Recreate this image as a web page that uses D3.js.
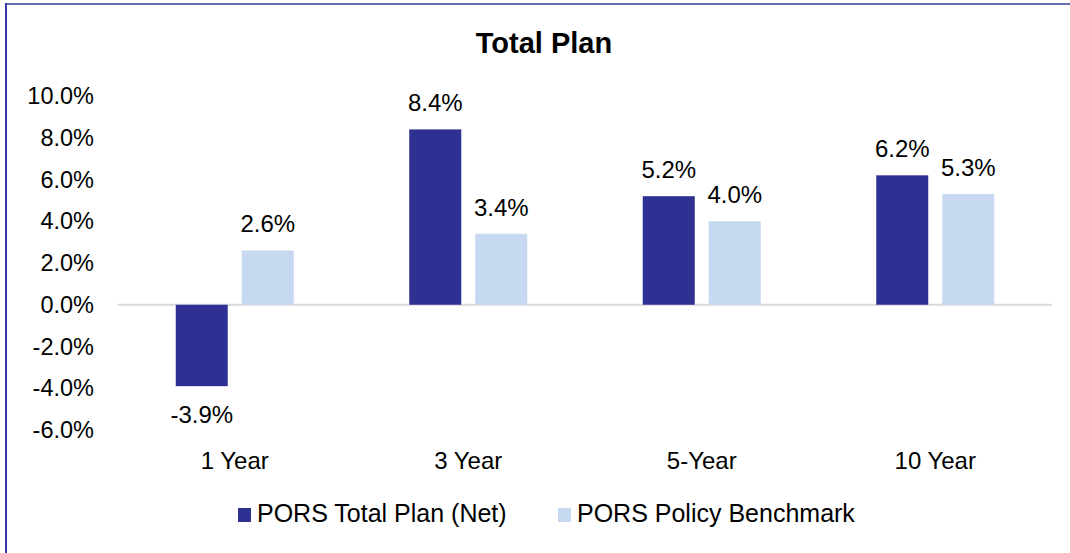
<!DOCTYPE html>
<meta charset="utf-8">
<style>
    body {
        margin: 0;
        background: #fff;
        font-family: "Liberation Sans", Arial, sans-serif;
    }

    text {
        fill: #000;
    }
</style>

<body>
    <svg id="chart" width="1070" height="553"></svg>

    <script src="https://cdnjs.cloudflare.com/ajax/libs/d3/7.8.5/d3.min.js"></script>

    <script>
        // data
        var categories = ["1 Year", "3 Year", "5-Year", "10 Year"];
        var seriesNames = ["PORS Total Plan (Net)", "PORS Policy Benchmark"];
        var totalPlan = [-3.9, 8.4, 5.2, 6.2];
        var benchmark = [2.6, 3.4, 4.0, 5.3];
        var yTicks = [-6, -4, -2, 0, 2, 4, 6, 8, 10];
        var colors = ["#2E3192", "#C6D9F0"];

        // plain hyphen minus, like the original
        function pct(v) { return v.toFixed(1) + "%"; }

        var svg = d3.select("#chart"),
            width = +svg.attr("width"),
            height = +svg.attr("height");

        // frame lines (top + left only visible)
        svg.append("line")
            .attr("x1", 5).attr("y1", 4).attr("x2", width).attr("y2", 4)
            .style("stroke", "#6B6EB4").style("stroke-width", 2);
        svg.append("line")
            .attr("x1", 6).attr("y1", 3).attr("x2", 6).attr("y2", height)
            .style("stroke", "#3438A0").style("stroke-width", 2);

        svg.append("text")
            .attr("x", 544)
            .attr("y", 53)
            .attr("text-anchor", "middle")
            .style("font-size", "29px")
            .style("font-weight", "700")
            .text("Total Plan");

        var x0 = d3.scaleBand()
            .domain(categories)
            .range([118, 1052]);

        var x1 = d3.scaleBand()
            .domain(seriesNames)
            .range([0, x0.bandwidth()])
            .paddingInner(0.212)
            .paddingOuter(0.875);

        var y = d3.scaleLinear()
            .domain([-6, 10])
            .range([430, 96]);

        // y tick labels
        var yAxis = svg.append("g")
            .attr("transform", "translate(97,0)")
            .call(d3.axisLeft(y).tickValues(yTicks).tickSize(0).tickPadding(3)
                .tickFormat(pct));
        yAxis.select(".domain").remove();
        yAxis.selectAll("text")
            .style("font-size", "23.5px")
            .style("font-family", "'Liberation Sans', Arial, sans-serif")
            .attr("fill", "#000");

        // zero line
        svg.append("line")
            .attr("x1", x0.range()[0])
            .attr("x2", x0.range()[1])
            .attr("y1", y(0))
            .attr("y2", y(0))
            .style("stroke", "#D9D9D9")
            .style("stroke-width", 2);

        var rows = categories.map(function (c, i) {
            return { cat: c, values: [totalPlan[i], benchmark[i]] };
        });

        var groups = svg.selectAll(".grp")
            .data(rows)
            .enter().append("g")
            .attr("class", "grp")
            .attr("transform", function (d) { return "translate(" + x0(d.cat) + ",0)"; });

        var cells = groups.selectAll(".cell")
            .data(function (d) {
                return d.values.map(function (v, k) { return { name: seriesNames[k], v: v, k: k }; });
            })
            .enter().append("g")
            .attr("class", "cell");

        cells.append("rect")
            .attr("x", function (d) { return x1(d.name); })
            .attr("width", x1.bandwidth())
            .attr("y", function (d) { return y(Math.max(0, d.v)); })
            .attr("height", function (d) { return Math.abs(y(d.v) - y(0)); })
            .attr("fill", function (d) { return colors[d.k]; });

        cells.append("text")
            .attr("x", function (d) { return x1(d.name) + x1.bandwidth() / 2; })
            .attr("y", function (d) { return d.v >= 0 ? y(d.v) - 18 : y(d.v) + 37; })
            .attr("text-anchor", "middle")
            .style("font-size", "24px")
            .text(function (d) { return pct(d.v); });

        // category labels
        svg.selectAll(".cat")
            .data(categories)
            .enter().append("text")
            .attr("class", "cat")
            .attr("x", function (d) { return x0(d) + x0.bandwidth() / 2; })
            .attr("y", 469)
            .attr("text-anchor", "middle")
            .style("font-size", "24px")
            .text(function (d) { return d; });

        // legend
        var legendX = [238, 558];
        var legend = svg.selectAll(".leg")
            .data(seriesNames)
            .enter().append("g")
            .attr("class", "leg")
            .attr("transform", function (d, i) { return "translate(" + legendX[i] + ",508)"; });

        legend.append("rect")
            .attr("width", 13)
            .attr("height", 14)
            .attr("fill", function (d, i) { return colors[i]; });

        legend.append("text")
            .attr("x", 19)
            .attr("y", 14)
            .style("font-size", "25px")
            .text(function (d) { return d; });
    </script>
</body>
